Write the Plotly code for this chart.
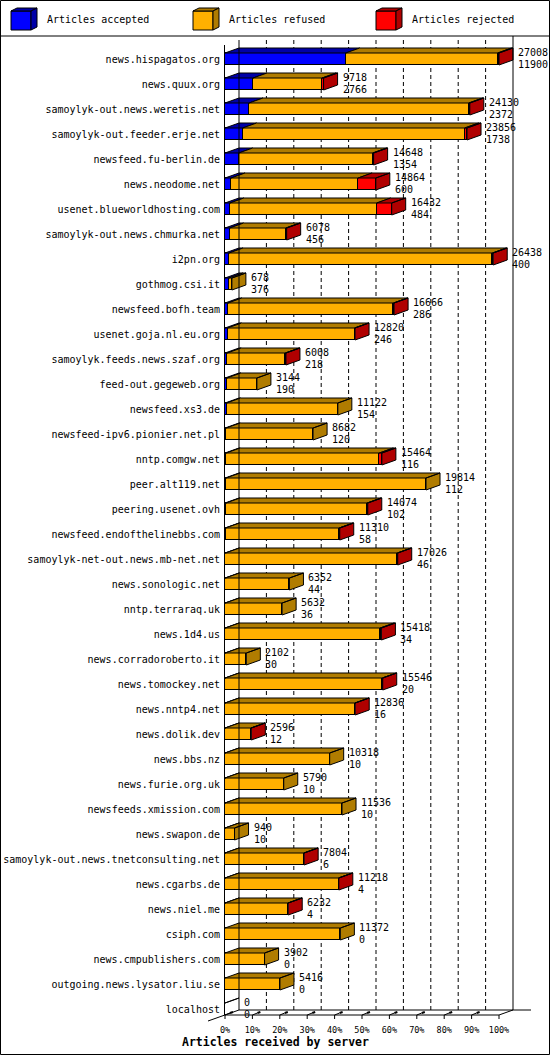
import plotly.graph_objects as go

# --- data ---
hosts = [
    "news.hispagatos.org", "news.quux.org", "samoylyk-out.news.weretis.net",
    "samoylyk-out.feeder.erje.net", "newsfeed.fu-berlin.de", "news.neodome.net",
    "usenet.blueworldhosting.com", "samoylyk-out.news.chmurka.net", "i2pn.org",
    "gothmog.csi.it", "newsfeed.bofh.team", "usenet.goja.nl.eu.org",
    "samoylyk.feeds.news.szaf.org", "feed-out.gegeweb.org", "newsfeed.xs3.de",
    "newsfeed-ipv6.pionier.net.pl", "nntp.comgw.net", "peer.alt119.net",
    "peering.usenet.ovh", "newsfeed.endofthelinebbs.com",
    "samoylyk-net-out.news.mb-net.net", "news.sonologic.net", "nntp.terraraq.uk",
    "news.1d4.us", "news.corradoroberto.it", "news.tomockey.net", "news.nntp4.net",
    "news.dolik.dev", "news.bbs.nz", "news.furie.org.uk", "newsfeeds.xmission.com",
    "news.swapon.de", "samoylyk-out.news.tnetconsulting.net", "news.cgarbs.de",
    "news.niel.me", "csiph.com", "news.cmpublishers.com",
    "outgoing.news.lysator.liu.se", "localhost",
]
offered = [27008, 9718, 24130, 23856, 14648, 14864, 16432, 6078, 26438, 678,
           16666, 12820, 6008, 3144, 11122, 8682, 15464, 19814, 14074, 11310,
           17026, 6352, 5632, 15418, 2102, 15546, 12836, 2596, 10318, 5790,
           11536, 940, 7804, 11218, 6232, 11372, 3902, 5416, 0]
accepted = [11900, 2766, 2372, 1738, 1354, 600, 484, 456, 400, 376,
            286, 246, 218, 190, 154, 120, 116, 112, 102, 58,
            46, 44, 36, 34, 30, 20, 16, 12, 10, 10,
            10, 10, 6, 4, 4, 0, 0, 0, 0]
refused = [14978, 6802, 21658, 21888, 13204, 12524, 14468, 5542, 25958, 302,
           16320, 12524, 5730, 2954, 10968, 8562, 15098, 19702, 13912, 11192,
           16940, 6308, 5596, 15264, 2072, 15496, 12790, 2544, 10308, 5780,
           11526, 930, 7758, 11184, 6198, 11372, 3902, 5416, 0]
rejected = [130, 150, 100, 230, 90, 1740, 1480, 80, 80, 0,
            60, 50, 60, 0, 0, 0, 250, 0, 60, 60,
            40, 0, 0, 120, 0, 30, 30, 40, 0, 0,
            0, 0, 40, 30, 30, 0, 0, 0, 0]
pct_ticks = [0, 10, 20, 30, 40, 50, 60, 70, 80, 90, 100]

series_names = ["Articles accepted", "Articles refused", "Articles rejected"]
front_colors = ["#0000ff", "#ffb000", "#ff0000"]
shade_colors = ["#0000a8", "#b07c00", "#b00000"]

# --- pixel geometry of the gd-style 3d chart ---
W, H = 550, 1055
L_PX, R_PX, TOP_PX, BOT_PX = 225, 514, 36, 1021
FRONT_W = 274          # px of the front face for 100%
DEPTH_X, DEPTH_Y = 14, 5
ROW0, PITCH, BAR_H = 59, 25, 12
FONT = "DejaVu Sans Mono"

xmax = max(offered)
kx = FRONT_W / xmax
dx = DEPTH_X / kx              # depth in data units
dy = DEPTH_Y / PITCH           # depth in row units
hb = BAR_H / PITCH / 2


def pxx(px):
    return (px - L_PX) / (R_PX - L_PX)


def pxy(py):
    return (BOT_PX - py) / (BOT_PX - TOP_PX)


def row_y(py):
    return (py - ROW0) / PITCH


rows = list(range(len(hosts)))
fig = go.Figure()

# front faces
for name, vals, col in zip(series_names, [accepted, refused, rejected], front_colors):
    fig.add_trace(go.Bar(
        y=rows, x=vals, orientation="h", width=2 * hb, name=name,
        marker=dict(color=col, line=dict(color="black", width=1)),
        showlegend=False, hoverinfo="skip",
    ))

# top and side faces, built from the same values
faces = {c: ([], []) for c in shade_colors}
for i in rows:
    start = 0
    segs = []
    for vals, shade in zip([accepted, refused, rejected], shade_colors):
        v = vals[i]
        if v > 0:
            segs.append((start, start + v, shade))
        start += v
    if not segs:
        segs = [(0, 0, shade_colors[0])]
    yf = i - hb
    yb = yf - dy
    for x0, x1, shade in segs:
        xs, ys = faces[shade]
        xs += [x0, x1, x1 + dx, x0 + dx, x0, None]
        ys += [yf, yf, yb, yb, yf, None]
    x0, x1, shade = segs[-1]
    if x1 > 0:
        xs, ys = faces[shade]
        xs += [x1, x1 + dx, x1 + dx, x1, x1, None]
        ys += [i - hb, i - hb - dy, i + hb - dy, i + hb, i - hb, None]

for shade, (xs, ys) in faces.items():
    fig.add_trace(go.Scatter(
        x=xs, y=ys, mode="lines", fill="toself", fillcolor=shade,
        line=dict(color="black", width=1), showlegend=False, hoverinfo="skip",
    ))

# value labels: offered on top, accepted below
ann = []
for i in rows:
    for txt, ys in [(offered[i], 7), (accepted[i], -5)]:
        ann.append(dict(
            x=offered[i], y=i, xref="x", yref="y", text=str(txt), showarrow=False,
            xanchor="left", yanchor="middle", xshift=DEPTH_X + 3, yshift=ys,
            font=dict(family=FONT, size=10, color="black"),
        ))

shapes = []
line_k = dict(color="black", width=1)

# dashed grid on the back wall
for p in pct_ticks[1:-1]:
    gx = p / 100 * xmax + dx
    shapes.append(dict(type="line", xref="x", yref="y", x0=gx, x1=gx,
                       y0=row_y(40), y1=row_y(1010), layer="below",
                       line=dict(color="black", width=1, dash="4px,3px")))


def seg(x0, y0, x1, y1, width=1):
    shapes.append(dict(type="line", xref="paper", yref="paper",
                       x0=pxx(x0), y0=pxy(y0), x1=pxx(x1), y1=pxy(y1),
                       line=dict(color="black", width=width)))


back_l = L_PX + DEPTH_X
front_floor = ROW0 + PITCH * (len(hosts) - 1) + BAR_H / 2
back_floor = front_floor - DEPTH_Y
seg(L_PX - 0.5, 45, L_PX - 0.5, front_floor)
seg(back_l, 40, back_l, back_floor)
seg(L_PX + FRONT_W + DEPTH_X, TOP_PX, L_PX + FRONT_W + DEPTH_X, back_floor)
seg(back_l, back_floor, 531, back_floor)
seg(L_PX, front_floor, L_PX + FRONT_W, front_floor)
seg(208, front_floor + 6, back_l, back_floor)
seg(L_PX + FRONT_W, front_floor, L_PX + FRONT_W + DEPTH_X, back_floor)
for p in pct_ticks:
    fx = L_PX + p / 100 * FRONT_W
    seg(fx, front_floor, fx, front_floor + 4)
    if p < 100:
        seg(fx, front_floor, fx + 5, front_floor - 2)
        seg(fx + 5, front_floor - 2, fx + 8, front_floor - 3, width=2)

# frame and legend separator
shapes.append(dict(type="rect", xref="paper", yref="paper",
                   x0=pxx(0.5), y0=pxy(0.5), x1=pxx(W - 0.5), y1=pxy(H - 0.5),
                   line=line_k))
seg(0, TOP_PX, W, TOP_PX)

# legend cubes
for lx, name, col, shade in zip([11, 193, 376], series_names, front_colors, shade_colors):
    x0, y0, x1, y1 = lx, 11, lx + 20, 30
    ox, oy = 6, -3
    for pts, c in [
        ([(x0, y0), (x1, y0), (x1, y1), (x0, y1)], col),
        ([(x0, y0), (x0 + ox, y0 + oy), (x1 + ox, y0 + oy), (x1, y0)], shade),
        ([(x1, y0), (x1 + ox, y0 + oy), (x1 + ox, y1 + oy), (x1, y1)], shade),
    ]:
        path = "M " + " L ".join(f"{pxx(a)},{pxy(b)}" for a, b in pts) + " Z"
        shapes.append(dict(type="path", xref="paper", yref="paper", path=path,
                           fillcolor=c, line=line_k))
    ann.append(dict(x=pxx(lx + 34), y=pxy(20), xref="paper", yref="paper",
                    text=name, showarrow=False, xanchor="left", yanchor="middle",
                    font=dict(family=FONT, size=10, color="black")))

ann.append(dict(x=pxx(W / 2), y=pxy(1042), xref="paper", yref="paper",
                text="Articles received by server", showarrow=False,
                xanchor="center", yanchor="middle",
                font=dict(family=FONT, size=11.5, color="black", weight="bold")))

fig.update_layout(
    width=W, height=H,
    margin=dict(l=L_PX, r=W - R_PX, t=TOP_PX, b=H - BOT_PX, pad=0),
    barmode="stack", bargap=0,
    paper_bgcolor="white", plot_bgcolor="white",
    showlegend=False,
    shapes=shapes, annotations=ann,
    xaxis=dict(range=[0, (R_PX - L_PX) / kx], showgrid=False, zeroline=False,
               showline=False, ticks="", tickvals=[p / 100 * xmax for p in pct_ticks],
               ticktext=[f"{p}%" for p in pct_ticks], ticklabelstandoff=2,
               tickfont=dict(family=FONT, size=8.5, color="black"),
               automargin=False, fixedrange=True),
    yaxis=dict(range=[row_y(BOT_PX), row_y(TOP_PX)], showgrid=False, zeroline=False,
               showline=False, ticks="", tickvals=rows, ticktext=hosts,
               ticklabelstandoff=4,
               tickfont=dict(family=FONT, size=10, color="black"),
               automargin=False, fixedrange=True),
)

# the page body margin would push the chart 8px off the corner
fig.write_html("out.html", config={"displayModeBar": False},
               post_script="document.body.style.margin='0';"
                           "document.body.style.overflow='hidden';")
